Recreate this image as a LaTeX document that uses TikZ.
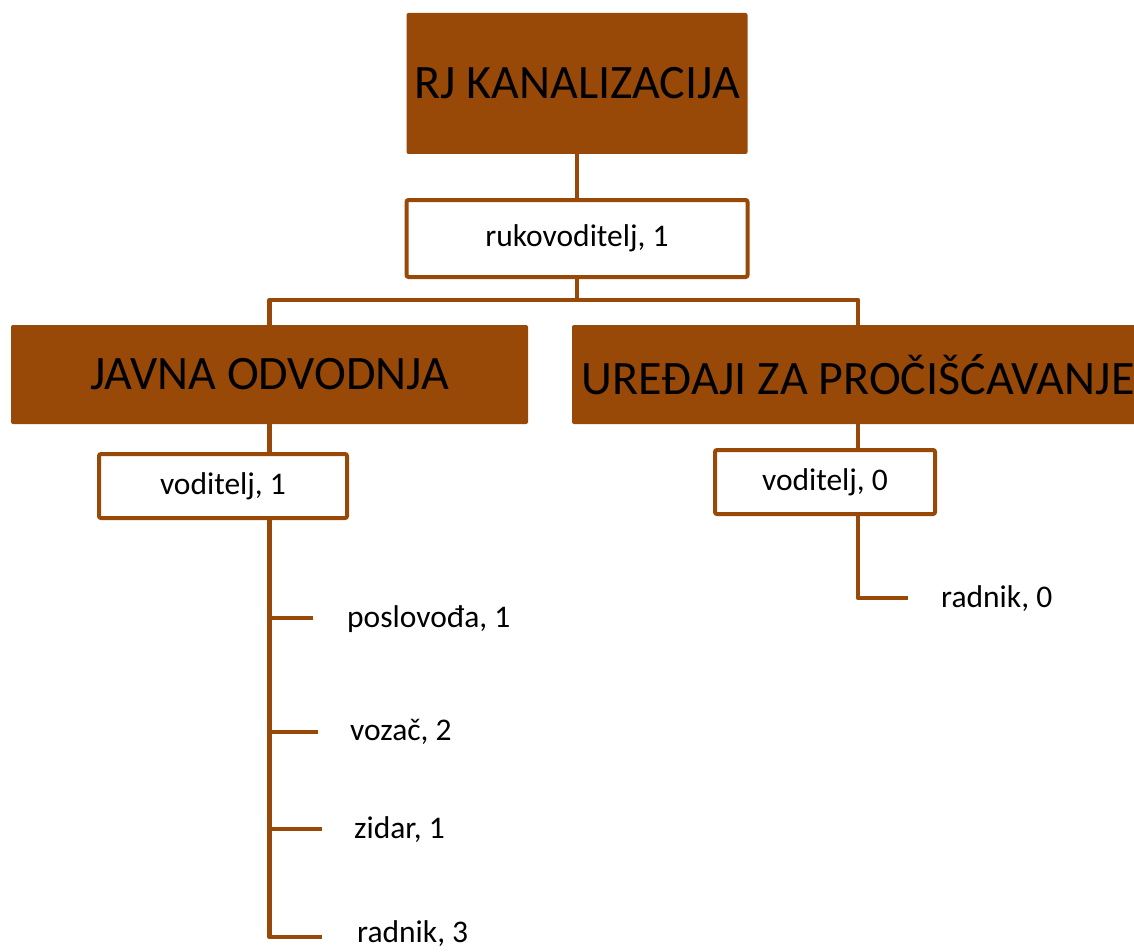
\documentclass[tikz,border=0pt]{standalone}
\usepackage{fontspec}
\setmainfont{Carlito}
\definecolor{brn}{HTML}{984807}
\begin{document}
\begin{tikzpicture}[x=1pt,y=-1pt,
  head/.style={draw=none, fill=brn, rounded corners=2pt, inner sep=0pt, text=black, font=\fontsize{48}{52}\selectfont},
  post/.style={draw=brn, line width=4pt, fill=white, rounded corners=2pt, inner sep=0pt, font=\fontsize{31.5}{36}\selectfont},
  link/.style={draw=brn, line width=4.5pt, line join=round},
  item/.style={anchor=west, inner sep=0pt, font=\fontsize{31.5}{36}\selectfont}]
\useasboundingbox (0,0) rectangle (1134,952);
\clip (0,0) rectangle (1134,952);
% boxes
\node[head, minimum width=341pt, minimum height=141pt] (top) at (577,83.5) {RJ KANALIZACIJA};
\node[post, minimum width=341pt, minimum height=77pt] (ruk) at (577,238.5) {rukovoditelj, 1};
\node[head, minimum width=517pt, minimum height=99pt] (javna) at (269.5,374.5) {JAVNA ODVODNJA};
\node[head, minimum width=572pt, minimum height=99pt] (ured) at (858,374.5) {UREĐAJI ZA PROČIŠĆAVANJE};
\node[post, minimum width=248pt, minimum height=64pt] (v1) at (223,486) {voditelj, 1};
\node[post, minimum width=220pt, minimum height=64pt] (v0) at (825,482) {voditelj, 0};
% connectors
\coordinate (bus) at (577,300);
\draw[link] (top.south) -- (ruk.north);
\draw[link] (ruk.south) -- (bus);
\draw[link] (javna.north) |- (bus) -| (ured.north);
\draw[link] (javna.south) -- (javna.south |- v1.north);
\draw[link] (ured.south) -- (ured.south |- v0.north);
% left staff
\coordinate (b1) at (313,618);
\coordinate (b2) at (318,732);
\coordinate (b3) at (322,829);
\coordinate (b4) at (322,937);
\draw[link] (javna.south |- v1.south) |- (b4);
\draw[link] (javna.south |- b1) -- (b1);
\draw[link] (javna.south |- b2) -- (b2);
\draw[link] (javna.south |- b3) -- (b3);
\node[item] (l1) at (347,619) {poslovođa, 1};
\node[item] (l2) at (350,732) {vozač, 2};
\node[item] (l3) at (354,830) {zidar, 1};
\node[item] (l4) at (357,934) {radnik, 3};
% right staff
\coordinate (r1) at (908,598);
\draw[link] (ured.south |- v0.south) |- (r1);
\node[item] (r1l) at (941,599) {radnik, 0};
\end{tikzpicture}
\end{document}
